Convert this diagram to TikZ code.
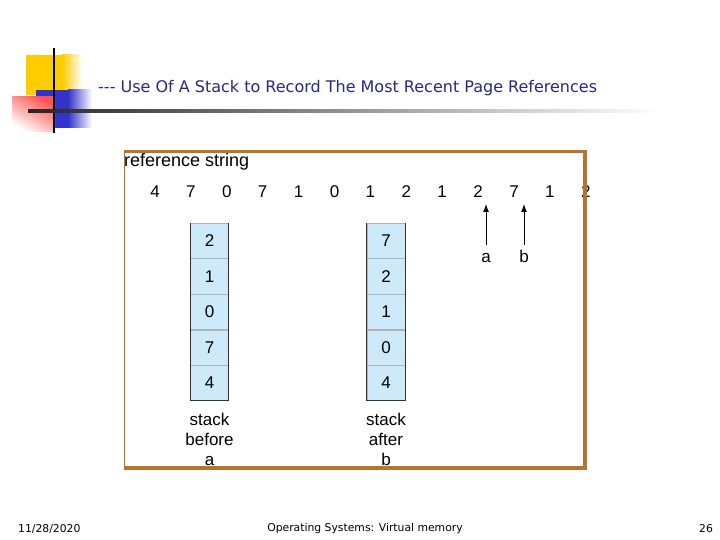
\documentclass[tikz,border=0pt]{standalone}
\usepackage{fontspec}
\setmainfont{Liberation Sans}
\newfontfamily\slidefont{DejaVu Sans}
\usetikzlibrary{arrows.meta,positioning}
\definecolor{framebrown}{RGB}{184,116,46}
\definecolor{titlenavy}{RGB}{40,40,130}
\definecolor{cellblue}{RGB}{205,233,250}
\definecolor{decoyellow}{RGB}{255,204,0}
\definecolor{decoblue}{RGB}{51,51,204}
\definecolor{decored}{RGB}{255,51,51}
\tikzset{
    refnum/.style={font=\fontsize{17}{20}\selectfont, minimum width=35.5pt, inner sep=0pt},
    stackcell/.style={draw=gray!60, fill=cellblue, minimum width=38pt, minimum height=35.2pt, inner sep=0pt, font=\fontsize{17}{20}\selectfont},
    stackedge/.style={draw=black!80, line width=0.8pt},
    stacklabel/.style={align=center, font=\fontsize{17}{20}\selectfont, inner sep=0pt},
    ptrlabel/.style={font=\fontsize{17}{20}\selectfont, inner sep=0pt, text height=12pt, text depth=0pt},
    refarrow/.style={-{Latex[length=8pt,width=6pt]}, line width=1pt},
    footer/.style={font=\slidefont\fontsize{10.8}{12}\selectfont, inner sep=0pt}
}
\begin{document}
\begin{tikzpicture}[x=1pt, y=-1pt]
    \useasboundingbox (0,0) rectangle (720,540);

    % slide decoration
    \fill[decoyellow] (26,55) rectangle (62,95);
    \shade[left color=decoyellow, right color=white] (62,55) rectangle (82,95);
    \fill[decoblue] (36,90) rectangle (68,128);
    \shade[left color=decoblue, right color=white] (68,90) rectangle (92,128);
    \shade[top color=decored!85, bottom color=white, shading angle=-30] (12,97) rectangle (55,132);
    \draw[line width=2.5pt] (54,48) -- (54,133);
    \shade[left color=black!85, middle color=black!45, right color=white] (28,110) rectangle (660,113);

    \node[anchor=west, text=titlenavy, font=\slidefont\fontsize{16}{18}\selectfont, inner sep=0pt] (title) at (98,88) {-{}-{}- Use Of A Stack to Record The Most Recent Page References};

    % reference string
    \node[anchor=west, font=\fontsize{18}{20}\selectfont, inner sep=0pt] (refstr) at (124,161.5) {reference string};
    \node[refnum] (r1) at (155,192) {4};
    \node[refnum, right=0pt of r1] (r2) {7};
    \node[refnum, right=0pt of r2] (r3) {0};
    \node[refnum, right=0pt of r3] (r4) {7};
    \node[refnum, right=0pt of r4] (r5) {1};
    \node[refnum, right=0pt of r5] (r6) {0};
    \node[refnum, right=0pt of r6] (r7) {1};
    \node[refnum, right=0pt of r7] (r8) {2};
    \node[refnum, right=0pt of r8] (r9) {1};
    \node[refnum, right=0pt of r9] (r10) {2};
    \node[refnum, right=0pt of r10] (r11) {7};
    \node[refnum, right=0pt of r11] (r12) {1};
    \node[refnum, right=0pt of r12] (r13) {2};

    \node[ptrlabel] (pa) at (486,256) {a};
    \node[ptrlabel] (pb) at (524,256) {b};
    \coordinate (tipa) at (486,204);
    \coordinate (tipb) at (524,204);
    \draw[refarrow, shorten <=5pt] (pa.north) -- (tipa);
    \draw[refarrow, shorten <=5pt] (pb.north) -- (tipb);

    % stack before a
    \node[stackcell] (a1) at (209.5,240.6) {2};
    \node[stackcell, below=0pt of a1] (a2) {1};
    \node[stackcell, below=0pt of a2] (a3) {0};
    \node[stackcell, below=0pt of a3] (a4) {7};
    \node[stackcell, below=0pt of a4] (a5) {4};
    \draw[stackedge] (a1.north west) -- (a5.south west) -- (a5.south east) -- (a1.north east);
    \node[stacklabel, below=12pt of a5] (capa) {stack\\before\\a};

    % stack after b
    \node[stackcell] (b1) at (386,240.6) {7};
    \node[stackcell, below=0pt of b1] (b2) {2};
    \node[stackcell, below=0pt of b2] (b3) {1};
    \node[stackcell, below=0pt of b3] (b4) {0};
    \node[stackcell, below=0pt of b4] (b5) {4};
    \draw[stackedge] (b1.north west) -- (b5.south west) -- (b5.south east) -- (b1.north east);
    \node[stacklabel, below=12pt of b5] (capb) {stack\\after\\b};

    % frame
    \draw[framebrown, line width=1pt] (124,151.5) rectangle (585,468);
    \draw[framebrown, line width=3.5pt] (123.5,151.5) -- (585,151.5) -- (585,468) -- (123.5,468);

    % footer
    \node[footer, anchor=west] (date) at (18,529) {11/28/2020};
    \node[footer] (course) at (365,529) {Operating Systems: Virtual memory};
    \node[footer] (pgno) at (706,529) {26};
\end{tikzpicture}
\end{document}
